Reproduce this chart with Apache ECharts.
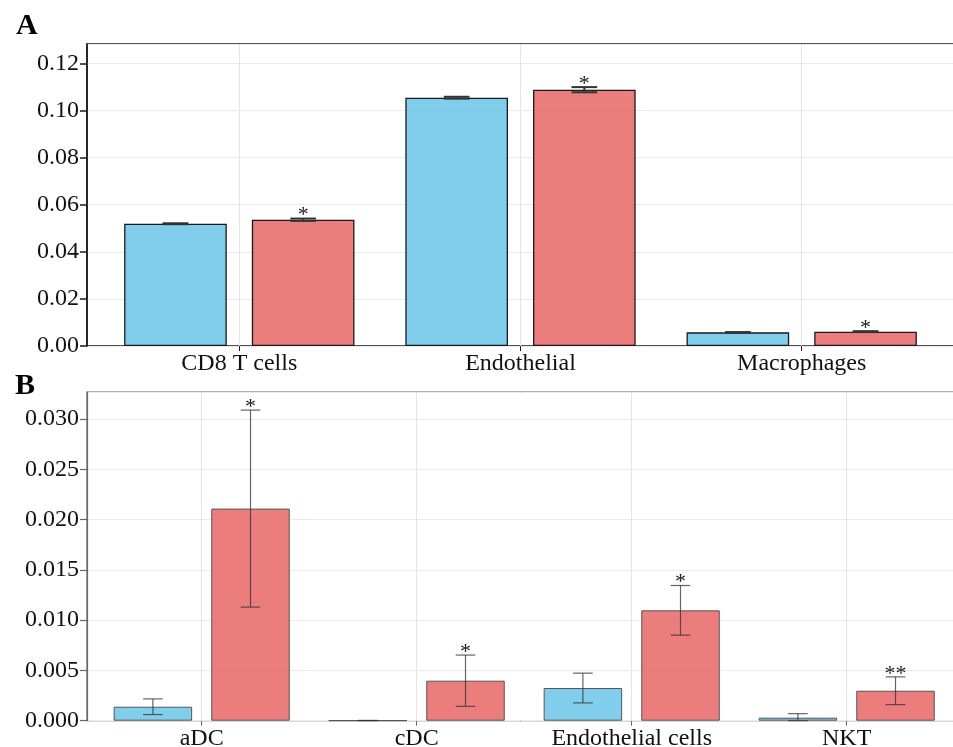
<!DOCTYPE html>
<html>
<head>
<meta charset="utf-8">
<script src="https://cdn.jsdelivr.net/npm/echarts@6/dist/echarts.min.js"></script>
<style>
html,body{margin:0;padding:0;background:#fff;}
#chart{width:953px;height:747px;}
</style>
</head>
<body>
<div id="chart"></div>
<script>
// ---- Panel A data ----
const categoriesA = ['CD8 T cells', 'Endothelial', 'Macrophages'];
const controlA = [0.0519, 0.1054, 0.0058];
const controlErrA = [0.0002, 0.0004, 0.0001];
const treatedA = [0.0536, 0.1088, 0.0061];
const treatedErrA = [0.0005, 0.0011, 0.0002];
const sigA = ['*', '*', '*'];
const yTicksA = { min: 0, max: 0.1282, interval: 0.02, decimals: 2 };

// ---- Panel B data ----
const categoriesB = ['aDC', 'cDC', 'Endothelial cells', 'NKT'];
const controlB = [0.00139, 0.00002, 0.00325, 0.0003];
const controlErrB = [0.00078, 0, 0.00148, 0.0004];
const treatedB = [0.0211, 0.00398, 0.01098, 0.00298];
const treatedErrB = [0.0098, 0.00255, 0.00247, 0.00138];
const sigB = ['*', '*', '*', '**'];
const yTicksB = { min: 0, max: 0.0327, interval: 0.005, decimals: 3 };

const FONT = '"Liberation Serif", "Times New Roman", serif';
const BAR_W = 0.365, BAR_GAP = 0.244;
const OFFSET = (BAR_W + BAR_W * BAR_GAP) / 2;
const CAP = 0.25 * BAR_W;

const blueFill = 'rgba(100,195,230,0.82)';
const redFill = 'rgba(232,96,96,0.82)';

function errSeries(xIdx, yIdx, vals, errs, sign, sig, color, lw) {
  return {
    type: 'custom', xAxisIndex: xIdx, yAxisIndex: yIdx, z: 5, silent: true,
    data: vals.map((v, i) => [i, v, errs[i]]),
    renderItem: function (params, api) {
      const xi = api.value(0), v = api.value(1), e = api.value(2);
      const band = api.size([1, 0])[0];
      const c = api.coord([xi, v]);
      const cx = c[0] + sign * OFFSET * band;
      const top = api.coord([xi, v + e])[1];
      const bot = api.coord([xi, Math.max(0, v - e)])[1];
      const half = CAP * band / 2;
      const st = { stroke: color, lineWidth: lw };
      const children = [
        { type: 'line', shape: { x1: cx, y1: top, x2: cx, y2: bot }, style: st },
        { type: 'line', shape: { x1: cx - half, y1: top, x2: cx + half, y2: top }, style: st },
        { type: 'line', shape: { x1: cx - half, y1: bot, x2: cx + half, y2: bot }, style: st }
      ];
      if (sig) {
        children.push({
          type: 'text',
          style: {
            text: sig[params.dataIndex], x: cx, y: top + 8,
            align: 'center', verticalAlign: 'bottom',
            font: '22px ' + FONT, fill: '#1a1a1a'
          }
        });
      }
      return { type: 'group', children: children };
    }
  };
}

// vertical grid lines at category centres (a data-less helper series)
function vGridSeries(xIdx, yIdx, cats) {
  return {
    type: 'line', xAxisIndex: xIdx, yAxisIndex: yIdx, data: cats.map(() => null),
    showSymbol: false, silent: true, z: 1,
    lineStyle: { opacity: 0 },
    markLine: {
      silent: true, symbol: ['none', 'none'], animation: false, z: 1,
      label: { show: false },
      lineStyle: { color: '#e4e4e4', width: 1, type: 'solid' },
      emphasis: { disabled: true },
      data: cats.map(c => ({ xAxis: c }))
    }
  };
}

function yAxisFrame(g, t, lineColor, lw) {
  return {
    gridIndex: g, type: 'value', min: t.min, max: t.max, interval: t.interval,
    axisLine: { show: true, lineStyle: { color: lineColor, width: lw } },
    axisTick: { show: true, inside: false, length: 7, lineStyle: { color: lineColor, width: lw } },
    axisLabel: {
      show: true, margin: 8, showMaxLabel: false, fontFamily: FONT, fontSize: 24, color: '#111',
      formatter: v => v.toFixed(t.decimals)
    },
    splitLine: { show: true, lineStyle: { color: '#ebebeb', width: 1 } }
  };
}
function yAxisData(g, t) {
  return { gridIndex: g, type: 'value', min: t.min, max: t.max, interval: t.interval, show: false, splitLine: { show: false } };
}
function xAxisCat(g, cats, lineColor) {
  return {
    gridIndex: g, type: 'category', data: cats,
    axisLine: { show: false },
    axisTick: { show: true, alignWithLabel: true, length: 5, lineStyle: { color: lineColor } },
    axisLabel: { fontFamily: FONT, fontSize: 24, color: '#111', margin: 6 },
    splitLine: { show: false }
  };
}

const chart = echarts.init(document.getElementById('chart'), null, { renderer: 'canvas' });
chart.setOption({
  animation: false,
  backgroundColor: '#fff',
  title: [
    { text: 'A', left: 11, top: 6, textStyle: { fontFamily: FONT, fontSize: 30, fontWeight: 'bold', color: '#000' } },
    { text: 'B', left: 10, top: 366, textStyle: { fontFamily: FONT, fontSize: 30, fontWeight: 'bold', color: '#000' } }
  ],
  grid: [
    { left: 87, width: 900, top: 44, height: 302, show: true, borderColor: '#1a1a1a', borderWidth: 1.5, backgroundColor: 'transparent', outerBoundsMode: 'none', containLabel: false },
    { left: 98.7, width: 843.6, top: 44, height: 302, outerBoundsMode: 'none', containLabel: false },
    { left: 87, width: 900, top: 392, height: 328.7, show: true, borderColor: '#666', borderWidth: 1.2, backgroundColor: 'transparent', outerBoundsMode: 'none', containLabel: false },
    { left: 94.2, width: 860, top: 392, height: 328.7, outerBoundsMode: 'none', containLabel: false }
  ],
  xAxis: [
    { gridIndex: 0, type: 'value', min: 0, max: 1, show: false },
    xAxisCat(1, categoriesA, '#1a1a1a'),
    { gridIndex: 2, type: 'value', min: 0, max: 1, show: false },
    xAxisCat(3, categoriesB, '#666')
  ],
  yAxis: [
    yAxisFrame(0, yTicksA, '#1a1a1a', 1.5),
    yAxisData(1, yTicksA),
    yAxisFrame(2, yTicksB, '#666', 1.2),
    yAxisData(3, yTicksB)
  ],
  series: [
    vGridSeries(1, 1, categoriesA),
    {
      type: 'bar', xAxisIndex: 1, yAxisIndex: 1, data: controlA,
      barWidth: (BAR_W * 100) + '%', barGap: (BAR_GAP * 100) + '%',
      itemStyle: { color: blueFill, borderColor: '#1a1a1a', borderWidth: 1.3 }, z: 2
    },
    {
      type: 'bar', xAxisIndex: 1, yAxisIndex: 1, data: treatedA,
      barWidth: (BAR_W * 100) + '%', barGap: (BAR_GAP * 100) + '%',
      itemStyle: { color: redFill, borderColor: '#1a1a1a', borderWidth: 1.3 }, z: 2
    },
    errSeries(1, 1, controlA, controlErrA, -1, null, '#333', 2),
    errSeries(1, 1, treatedA, treatedErrA, 1, sigA, '#333', 2),
    vGridSeries(3, 3, categoriesB),
    {
      type: 'bar', xAxisIndex: 3, yAxisIndex: 3, data: controlB,
      barWidth: (BAR_W * 100) + '%', barGap: (BAR_GAP * 100) + '%',
      itemStyle: { color: blueFill, borderColor: '#555', borderWidth: 1 }, z: 2
    },
    {
      type: 'bar', xAxisIndex: 3, yAxisIndex: 3, data: treatedB,
      barWidth: (BAR_W * 100) + '%', barGap: (BAR_GAP * 100) + '%',
      itemStyle: { color: redFill, borderColor: '#555', borderWidth: 1 }, z: 2
    },
    errSeries(3, 3, controlB, controlErrB, -1, null, 'rgba(50,50,50,0.75)', 1.2),
    errSeries(3, 3, treatedB, treatedErrB, 1, sigB, 'rgba(50,50,50,0.75)', 1.2)
  ]
});
</script>
</body>
</html>
